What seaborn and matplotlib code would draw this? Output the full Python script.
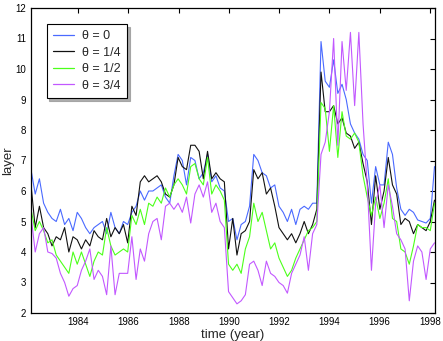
import numpy as np
import pandas as pd
import matplotlib
matplotlib.use("Agg")
import matplotlib.pyplot as plt
import seaborn as sns

# ---- data (2-month sampling) ----
theta_labels = ["θ = 0", "θ = 1/4", "θ = 1/2", "θ = 3/4"]

layer_theta0 = [6.7, 5.9, 6.4, 5.6, 5.3, 5.1, 5.0, 5.4, 4.9, 5.1, 4.7, 5.3, 5.1, 4.8, 4.6, 4.8,
                4.9, 5.0, 4.6, 5.3, 4.8, 4.6, 5.0, 4.9, 5.3, 5.5, 6.0, 5.7, 6.0, 6.0, 6.1, 6.2,
                5.8, 5.6, 6.5, 7.2, 7.0, 6.2, 7.1, 7.0, 6.4, 6.6, 7.2, 6.3, 6.5, 6.1, 6.0, 5.0,
                5.1, 4.4, 4.9, 5.0, 5.5, 7.2, 7.0, 6.6, 6.5, 6.1, 6.2, 5.5, 5.3, 5.0, 5.4, 4.9,
                5.4, 5.5, 5.4, 5.6, 5.6, 10.9, 9.6, 9.4, 10.3, 9.2, 9.5, 9.0, 8.2, 7.9, 7.7, 7.2,
                7.0, 5.6, 6.8, 6.2, 6.2, 7.6, 7.2, 6.1, 5.4, 5.2, 5.4, 5.3, 5.05, 5.0, 4.95, 5.1,
                6.8]
layer_theta1 = [6.2, 4.8, 5.5, 4.8, 4.6, 4.2, 4.5, 4.4, 4.8, 4.0, 4.5, 4.4, 4.1, 4.4, 4.2, 4.7,
                4.5, 4.4, 5.1, 4.5, 4.8, 4.6, 4.9, 4.3, 5.5, 5.2, 6.3, 6.5, 6.3, 6.4, 6.5, 6.3,
                5.9, 5.8, 6.2, 7.1, 6.8, 6.7, 7.5, 7.5, 7.3, 6.4, 7.3, 6.4, 6.6, 6.4, 6.3, 4.1,
                5.1, 3.9, 4.6, 4.7, 5.0, 6.7, 6.4, 6.6, 5.9, 6.1, 5.5, 4.8, 4.6, 4.4, 4.6, 4.3,
                4.6, 5.0, 4.6, 4.9, 5.4, 9.9, 8.6, 8.6, 8.8, 8.2, 8.4, 7.9, 7.8, 7.4, 7.6, 6.9,
                6.3, 4.9, 6.5, 5.4, 6.0, 7.1, 6.2, 5.9, 4.9, 5.1, 5.0, 4.6, 4.9, 4.8, 4.7, 5.0,
                5.7]
layer_theta2 = [5.4, 4.7, 5.0, 4.7, 4.3, 4.4, 3.9, 3.7, 3.5, 3.3, 4.0, 3.6, 4.0, 3.6, 3.2, 3.7,
                4.0, 3.9, 4.8, 4.2, 3.9, 4.0, 4.1, 4.0, 5.2, 4.9, 5.4, 4.9, 5.6, 5.5, 5.8, 5.6,
                6.1, 5.8, 6.2, 6.4, 6.2, 5.9, 6.8, 6.9, 6.4, 6.2, 7.1, 5.9, 6.2, 6.0, 5.7, 3.6,
                3.4, 3.6, 3.3, 4.1, 4.5, 5.6, 5.0, 5.3, 4.7, 4.1, 4.3, 3.8, 3.5, 3.2, 3.4, 3.8,
                4.1, 4.4, 4.7, 4.8, 5.0, 8.9, 8.7, 7.3, 8.8, 7.1, 8.6, 7.8, 7.7, 7.9, 7.6, 6.5,
                5.8, 5.2, 5.8, 5.1, 5.6, 6.4, 5.1, 5.0, 4.1, 4.0, 3.6, 4.2, 4.9, 4.8, 4.8, 4.7,
                5.6]
layer_theta3 = [5.2, 4.0, 4.6, 4.8, 4.0, 3.95, 3.8, 3.3, 3.0, 2.55, 2.8, 2.9, 3.4, 3.7, 4.1, 3.1,
                3.4, 3.2, 2.6, 4.2, 2.6, 3.3, 3.3, 3.3, 4.5, 3.1, 4.1, 3.7, 4.6, 5.0, 5.1, 4.4,
                5.5, 5.6, 5.4, 5.6, 5.3, 5.8, 4.95, 5.9, 6.2, 5.8, 6.3, 5.3, 5.6, 5.0, 4.8, 2.7,
                2.5, 2.3, 2.4, 2.6, 3.6, 3.7, 3.4, 2.9, 3.7, 3.3, 3.2, 3.0, 2.9, 2.65, 3.3, 3.6,
                3.9, 4.5, 3.4, 4.6, 4.9, 7.2, 7.6, 8.6, 11.0, 7.5, 10.9, 9.3, 11.2, 8.8, 11.2, 8.2,
                6.2, 3.4, 5.6, 6.2, 4.8, 6.2, 5.5, 4.6, 4.4, 4.1, 2.4, 3.7, 4.2, 4.0, 3.1, 4.1,
                4.3]
series = [layer_theta0, layer_theta1, layer_theta2, layer_theta3]
years = np.linspace(1982.12, 1998.18, len(layer_theta0))

x_ticks = [1984, 1986, 1988, 1990, 1992, 1994, 1996, 1998]
y_ticks = [2, 3, 4, 5, 6, 7, 8, 9, 10, 11, 12]
line_colors = ["#4a6aff", "#111111", "#4cff1a", "#c258ff"]

frames = []
for lab, vals in zip(theta_labels, series):
    frames.append(pd.DataFrame({"year": years, "layer": vals, "theta": lab}))
df = pd.concat(frames, ignore_index=True)

# ---- figure ----
sns.set_style("white")
plt.rcParams["font.family"] = ["Liberation Sans", "DejaVu Sans"]

fig = plt.figure(figsize=(4.43, 3.41), dpi=100)
ax = fig.add_axes([30.5 / 443, 1 - 313 / 341, (435 - 30.5) / 443, (313 - 8) / 341])

sns.lineplot(data=df, x="year", y="layer", hue="theta", hue_order=theta_labels,
             palette=line_colors, linewidth=0.8, ax=ax, legend=True)

ax.set_xlim(1982.1, 1998.2)
ax.set_ylim(2, 12)
ax.set_xticks(x_ticks)
ax.set_yticks(y_ticks)
ax.tick_params(direction="in", length=3.5, width=0.8, top=True, right=True,
               labelsize=7, colors="black", pad=3)
for s in ax.spines.values():
    s.set_visible(True)
    s.set_color("black")
    s.set_linewidth(0.9)

ax.set_xlabel("time (year)", fontsize=9.5, labelpad=1)
ax.set_ylabel("layer", fontsize=9.5, labelpad=1)

handles, labels = ax.get_legend_handles_labels()
leg = ax.legend(handles, labels, loc="upper left",
                bbox_to_anchor=(16 / 404.5, 1 - 16 / 305), borderaxespad=0,
                fontsize=9, frameon=True, fancybox=False,
                shadow={"color": "0.6", "alpha": 0.8},
                handlelength=1.7, handletextpad=0.65, borderpad=0.5, labelspacing=0.36)
leg.get_frame().set_edgecolor("black")
leg.get_frame().set_linewidth(0.8)
for line in leg.get_lines():
    line.set_linewidth(0.9)

fig.savefig("out.png", dpi=100)
